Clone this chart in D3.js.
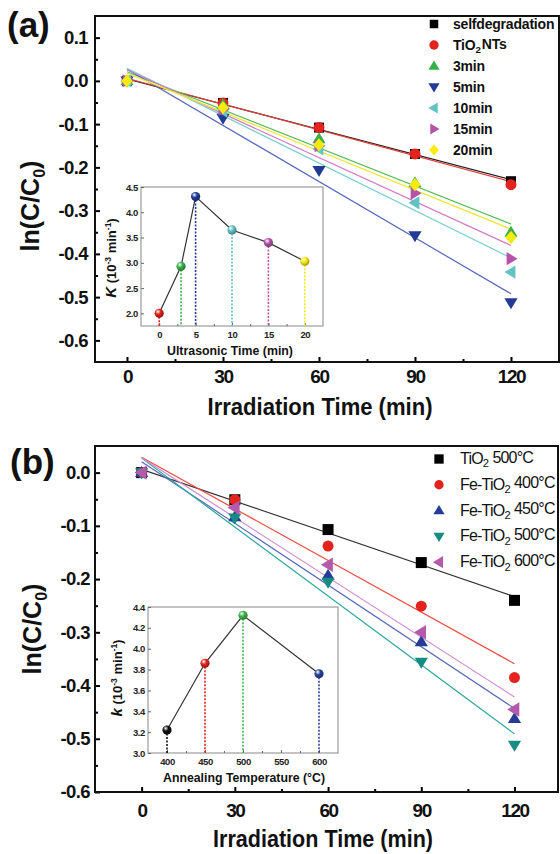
<!DOCTYPE html>
<html>
<head>
<meta charset="utf-8">
<script src="https://cdn.jsdelivr.net/npm/d3@7"></script>
<style>
  body { margin: 0; background: #fff; }
  text { font-family: "Liberation Sans", Arial, sans-serif; }
</style>
</head>
<body>
<script>
// ---- data, panel (a) ----
var timesA = [0, 30, 60, 90, 120];
var selfDeg = [0, -0.051, -0.108, -0.169, -0.232];
var tio2NTs = [0, -0.051, -0.108, -0.169, -0.240];
var us3 = [0, -0.055, -0.134, -0.236, -0.350];
var us5 = [0, -0.086, -0.207, -0.358, -0.513];
var us10 = [0, -0.070, -0.157, -0.282, -0.442];
var us15 = [0, -0.066, -0.150, -0.260, -0.411];
var us20 = [0, -0.062, -0.148, -0.240, -0.362];
var labelsA = ["selfdegradation", "TiO{2}NTs", "3min", "5min", "10min", "15min", "20min"];
var yTicksA = [0.1, 0.0, -0.1, -0.2, -0.3, -0.4, -0.5, -0.6];
var xTicks = [0, 30, 60, 90, 120];

// inset (a)
var usTime = [0, 3, 5, 10, 15, 20];
var usK = [2.0, 2.93, 4.31, 3.65, 3.40, 3.03];
var insetYTicksA = [2.0, 2.5, 3.0, 3.5, 4.0, 4.5];
var insetXTicksA = [0, 5, 10, 15, 20];

// ---- data, panel (b) ----
var timesB = [0, 30, 60, 90, 120];
var tio2_500 = [0, -0.051, -0.107, -0.169, -0.240];
var fe400 = [0, -0.051, -0.138, -0.251, -0.385];
var fe450 = [0, -0.083, -0.193, -0.318, -0.462];
var fe500 = [0, -0.085, -0.206, -0.356, -0.512];
var fe600 = [0, -0.066, -0.173, -0.300, -0.445];
var labelsB = ["TiO{2} 500°C", "Fe-TiO{2} 400°C", "Fe-TiO{2} 450°C", "Fe-TiO{2} 500°C", "Fe-TiO{2} 600°C"];
var yTicksB = [0.0, -0.1, -0.2, -0.3, -0.4, -0.5, -0.6];

// inset (b)
var annealT = [400, 450, 500, 600];
var annealK = [3.22, 3.86, 4.32, 3.76];
var insetYTicksB = [3.0, 3.2, 3.4, 3.6, 3.8, 4.0, 4.2, 4.4];
var insetXTicksB = [400, 450, 500, 550, 600];

// ---- styles ----
var colorsA = ["#000000", "#e3231d", "#38b04a", "#223a95", "#62c3c3", "#b654aa", "#f7ea0c"];
var lineColA = ["#222222", "#e4403a", "#52bb52", "#5566bb", "#7ccfd0", "#d27cc8", "#f2e43a"];
var shapesA = ["square", "circle", "up", "down", "left", "right", "diamond"];
var ballColA = ["#e3231d", "#38b04a", "#223a95", "#62c3c3", "#b654aa", "#f7ea0c"];

var colorsB = ["#000000", "#e3231d", "#263b96", "#178c80", "#b45aab"];
var lineColB = ["#333333", "#ee4a40", "#5566bb", "#2aa79c", "#d189d0"];
var shapesB = ["square", "circle", "up", "down", "left"];
var ballColB = ["#111111", "#e3231d", "#3fb64a", "#2d44a0"];

var svg = d3.select("body").append("svg")
  .attr("width", 560).attr("height", 854)
  .style("background", "#fff");

var defs = svg.append("defs");
function ballGrad(id, col) {
  var g = defs.append("radialGradient").attr("id", id)
    .attr("cx", "40%").attr("cy", "35%").attr("r", "65%")
    .attr("fx", "35%").attr("fy", "30%");
  g.append("stop").attr("offset", "0%").attr("stop-color", "#ffffff");
  g.append("stop").attr("offset", "45%").attr("stop-color", col);
  g.append("stop").attr("offset", "100%").attr("stop-color", d3.color(col).darker(1.2));
}

function markerPath(shape, s) {
  var r = s / 2, w = s * 1.2, h = s;
  switch (shape) {
    case "square": return "M" + (-r) + "," + (-r) + "h" + s + "v" + s + "h" + (-s) + "Z";
    case "circle": return "M" + r + ",0A" + r + "," + r + " 0 1,1 " + (-r) + ",0A" + r + "," + r + " 0 1,1 " + r + ",0Z";
    case "up": return "M0," + (-h * 0.6) + "L" + (w / 2) + "," + (h * 0.4) + "L" + (-w / 2) + "," + (h * 0.4) + "Z";
    case "down": return "M0," + (h * 0.6) + "L" + (w / 2) + "," + (-h * 0.4) + "L" + (-w / 2) + "," + (-h * 0.4) + "Z";
    case "left": return "M" + (-h * 0.6) + ",0L" + (h * 0.4) + "," + (-w / 2) + "L" + (h * 0.4) + "," + (w / 2) + "Z";
    case "right": return "M" + (h * 0.6) + ",0L" + (-h * 0.4) + "," + (-w / 2) + "L" + (-h * 0.4) + "," + (w / 2) + "Z";
    case "diamond": return "M0," + (-s * 0.6) + "L" + (s * 0.52) + ",0L0," + (s * 0.6) + "L" + (-s * 0.52) + ",0Z";
  }
}

// text with {sub} parts
function richText(sel, str, subSize) {
  var parts = str.split(/(\{[^}]*\})/);
  parts.forEach(function (p) {
    if (!p) return;
    if (p[0] === "{") {
      sel.append("tspan").attr("dy", "0.3em").attr("font-size", subSize).text(p.slice(1, -1));
      sel.append("tspan").attr("dy", "-0.3em").text("\u200a");
    } else {
      sel.append("tspan").text(p);
    }
  });
}

function fit(xs, ys) {
  var mx = d3.mean(xs), my = d3.mean(ys), sxy = 0, sxx = 0;
  xs.forEach(function (x, i) { sxy += (x - mx) * (ys[i] - my); sxx += (x - mx) * (x - mx); });
  var b = sxy / sxx;
  return { slope: b, icpt: my - b * mx };
}

function minorTicks(list) {
  var out = [];
  for (var i = 0; i < list.length - 1; i++) out.push((list[i] + list[i + 1]) / 2);
  return out;
}

function mainPanel(o) {
  var x = d3.scaleLinear().domain(o.xDom).range([95, o.right]);
  var y = d3.scaleLinear().domain(o.yDom).range([o.bottom, o.top]);
  var g = svg.append("g");

  // y axis
  var ya = g.append("g").attr("transform", "translate(95,0)")
    .call(d3.axisLeft(y).tickValues(o.yTicks).tickSize(-5).tickPadding(o.yPad)
      .tickFormat(function (d) { return d.toFixed(1); }));
  ya.select(".domain").remove();
  ya.selectAll("line").attr("stroke-width", 2);
  ya.selectAll("text").attr("font-size", 18.5).attr("font-weight", "bold")
    .attr("letter-spacing", -0.6).attr("fill", "#111")
    .attr("font-family", "Liberation Sans, Arial, sans-serif");
  var yMinor = g.append("g").attr("transform", "translate(95,0)")
    .call(d3.axisLeft(y).tickValues(minorTicks(o.yTicks)).tickSize(-3).tickFormat(""));
  yMinor.select(".domain").remove();
  yMinor.selectAll("line").attr("stroke-width", 2);

  // x axis
  var xa = g.append("g").attr("transform", "translate(0," + o.bottom + ")")
    .call(d3.axisBottom(x).tickValues(xTicks).tickSize(-5).tickPadding(o.xPad)
      .tickFormat(function (d) { return d; }));
  xa.select(".domain").remove();
  xa.selectAll("line").attr("stroke-width", 2);
  xa.selectAll("text").attr("font-size", 19).attr("font-weight", "bold")
    .attr("letter-spacing", -1.4).attr("fill", "#111")
    .attr("font-family", "Liberation Sans, Arial, sans-serif");
  var xMinor = g.append("g").attr("transform", "translate(0," + o.bottom + ")")
    .call(d3.axisBottom(x).tickValues(minorTicks(xTicks)).tickSize(-3).tickFormat(""));
  xMinor.select(".domain").remove();
  xMinor.selectAll("line").attr("stroke-width", 2);

  // frame
  g.append("rect").attr("x", 95).attr("y", o.top)
    .attr("width", o.right - 95).attr("height", o.bottom - o.top)
    .attr("fill", "none").attr("stroke", "#111").attr("stroke-width", 2);

  // fitted lines
  o.series.forEach(function (s) {
    var f = fit(o.times, s.values);
    g.append("line")
      .attr("x1", x(0)).attr("y1", y(f.icpt))
      .attr("x2", x(120)).attr("y2", y(f.icpt + f.slope * 120))
      .attr("stroke", s.line).attr("stroke-width", 1.2);
  });

  // points
  o.series.forEach(function (s) {
    g.selectAll(null).data(s.values).enter().append("path")
      .attr("d", markerPath(s.shape, s.size))
      .attr("transform", function (d, i) { return "translate(" + x(o.times[i]) + "," + y(d) + ")"; })
      .attr("fill", s.color);
  });

  // legend
  o.series.forEach(function (s, i) {
    var ly = o.legY + i * o.legStep;
    g.append("path").attr("d", markerPath(s.shape, s.size * 0.85))
      .attr("transform", "translate(" + o.legX + "," + ly + ")").attr("fill", s.color);
    var t = g.append("text").attr("x", o.legTextX).attr("y", ly + 5)
      .attr("font-size", o.legFont).attr("font-weight", o.legWeight)
      .attr("letter-spacing", o.legSpacing).attr("fill", "#111");
    richText(t, s.name, o.legFont * 0.7);
  });

  // axis titles
  g.append("text").attr("x", o.xTitleX).attr("y", o.xTitleY)
    .attr("text-anchor", "middle").attr("font-size", 24).attr("font-weight", "bold")
    .attr("textLength", o.xTitleW).attr("lengthAdjust", "spacingAndGlyphs")
    .attr("fill", "#111").text("Irradiation Time (min)");
  var yt = g.append("text")
    .attr("transform", "translate(" + o.yTitleX + "," + o.yTitleY + ") rotate(-90)")
    .attr("text-anchor", "middle").attr("font-size", 25).attr("font-weight", "bold")
    .attr("fill", "#111");
  yt.append("tspan").text("ln(C/C");
  yt.append("tspan").attr("font-size", 16).attr("dy", 6).text("0");
  yt.append("tspan").attr("dy", -6).text(")");

  // panel letter
  g.append("text").attr("x", o.letterX).attr("y", o.letterY)
    .attr("font-size", 35).attr("font-weight", "bold").attr("fill", "#111").text(o.letter);
}

function inset(o) {
  var x = d3.scaleLinear().domain(o.xDom).range([o.left, o.right]);
  var y = d3.scaleLinear().domain(o.yDom).range([o.bottom, o.top]);
  var g = svg.append("g");
  g.append("rect").attr("x", o.left).attr("y", o.top)
    .attr("width", o.right - o.left).attr("height", o.bottom - o.top)
    .attr("fill", "#fff").attr("stroke", "#888").attr("stroke-width", 1);

  var ya = g.append("g").attr("transform", "translate(" + o.left + ",0)")
    .call(d3.axisLeft(y).tickValues(o.yTicks).tickSize(-3).tickPadding(3)
      .tickFormat(function (d) { return d.toFixed(1); }));
  ya.select(".domain").remove();
  ya.selectAll("line").attr("stroke", "#666");
  ya.selectAll("text").attr("font-size", 9.5).attr("font-weight", "bold")
    .attr("letter-spacing", -0.4).attr("fill", "#222")
    .attr("font-family", "Liberation Sans, Arial, sans-serif");
  var xa = g.append("g").attr("transform", "translate(0," + o.bottom + ")")
    .call(d3.axisBottom(x).tickValues(o.xTicks).tickSize(-3).tickPadding(5)
      .tickFormat(function (d) { return d; }));
  xa.select(".domain").remove();
  xa.selectAll("line").attr("stroke", "#666");
  xa.selectAll("text").attr("font-size", 9.5).attr("font-weight", "bold")
    .attr("letter-spacing", -0.4).attr("fill", "#222")
    .attr("font-family", "Liberation Sans, Arial, sans-serif");
  var xm = g.append("g").attr("transform", "translate(0," + o.bottom + ")")
    .call(d3.axisBottom(x).tickValues(minorTicks(o.xTicks)).tickSize(-2).tickFormat(""));
  xm.select(".domain").remove();
  xm.selectAll("line").attr("stroke", "#666");

  // drop lines
  o.xs.forEach(function (v, i) {
    g.append("line").attr("x1", x(v)).attr("x2", x(v))
      .attr("y1", y(o.ys[i])).attr("y2", o.bottom)
      .attr("stroke", o.colors[i]).attr("stroke-width", 1.6)
      .attr("stroke-dasharray", "2,1.5");
  });
  var line = d3.line().x(function (d, i) { return x(o.xs[i]); }).y(function (d) { return y(d); });
  g.append("path").datum(o.ys).attr("d", line)
    .attr("fill", "none").attr("stroke", "#333").attr("stroke-width", 1.2);
  o.xs.forEach(function (v, i) {
    var id = o.id + i;
    ballGrad(id, o.colors[i]);
    g.append("circle").attr("cx", x(v)).attr("cy", y(o.ys[i])).attr("r", 4.6)
      .attr("fill", "url(#" + id + ")");
  });

  g.append("text").attr("x", o.xTitleX).attr("y", o.xTitleY)
    .attr("text-anchor", "middle").attr("font-size", 13).attr("font-weight", "bold")
    .attr("textLength", o.xTitleW).attr("lengthAdjust", "spacingAndGlyphs")
    .attr("fill", "#111").text(o.xTitle);
  var yt = g.append("text")
    .attr("transform", "translate(" + o.yTitleX + "," + o.yTitleY + ") rotate(-90)")
    .attr("text-anchor", "middle").attr("font-size", 13).attr("font-weight", "bold")
    .attr("fill", "#111");
  yt.append("tspan").attr("font-style", "italic").attr("font-size", 15).text(o.kSym);
  yt.append("tspan").text(" (10");
  yt.append("tspan").attr("font-size", 8.5).attr("dy", -5).text("-3");
  yt.append("tspan").attr("dy", 5).text(" min");
  yt.append("tspan").attr("font-size", 8.5).attr("dy", -5).text("-1");
  yt.append("tspan").attr("dy", 5).text(")");
}

var valuesA = [selfDeg, tio2NTs, us3, us5, us10, us15, us20];
var seriesA = valuesA.map(function (v, i) {
  return { name: labelsA[i], values: v, color: colorsA[i], line: lineColA[i], shape: shapesA[i],
    size: shapesA[i] === "square" ? 10 : 11 };
});
mainPanel({
  xDom: [-10, 135], yDom: [-0.65, 0.15], top: 16, bottom: 362, right: 559,
  yTicks: yTicksA, yPad: 7, xPad: 8, times: timesA, series: seriesA,
  legX: 434, legTextX: 453, legY: 24, legStep: 21, legFont: 14, legWeight: "bold", legSpacing: -0.2,
  xTitleX: 320, xTitleY: 415, xTitleW: 225, yTitleX: 39, yTitleY: 206,
  letter: "(a)", letterX: 7, letterY: 37
});
inset({
  id: "ga", xDom: [-2.5, 22.5], yDom: [1.75, 4.5], left: 141, right: 323, top: 187, bottom: 326,
  yTicks: insetYTicksA, xTicks: insetXTicksA, xs: usTime, ys: usK, colors: ballColA,
  xTitle: "Ultrasonic Time (min)", xTitleX: 230, xTitleY: 355, xTitleW: 126,
  kSym: "K", yTitleX: 116, yTitleY: 258
});

var valuesB = [tio2_500, fe400, fe450, fe500, fe600];
var seriesB = valuesB.map(function (v, i) {
  return { name: labelsB[i], values: v, color: colorsB[i], line: lineColB[i], shape: shapesB[i],
    size: shapesB[i] === "left" ? 12 : 11 };
});
mainPanel({
  xDom: [-15, 134], yDom: [-0.6, 0.05], top: 446, bottom: 792, right: 558,
  yTicks: yTicksB, yPad: 5, xPad: 12, times: timesB, series: seriesB,
  legX: 439, legTextX: 460, legY: 459, legStep: 25.8, legFont: 16, legWeight: "normal", legSpacing: -0.8,
  xTitleX: 323, xTitleY: 847, xTitleW: 220, yTitleX: 41, yTitleY: 629,
  letter: "(b)", letterX: 10, letterY: 474
});
inset({
  id: "gb", xDom: [375, 625], yDom: [3.0, 4.4], left: 148, right: 338, top: 607, bottom: 753,
  yTicks: insetYTicksB, xTicks: insetXTicksB, xs: annealT, ys: annealK, colors: ballColB,
  xTitle: "Annealing Temperature (°C)", xTitleX: 244, xTitleY: 782, xTitleW: 162,
  kSym: "k", yTitleX: 122, yTitleY: 678
});
</script>
</body>
</html>
